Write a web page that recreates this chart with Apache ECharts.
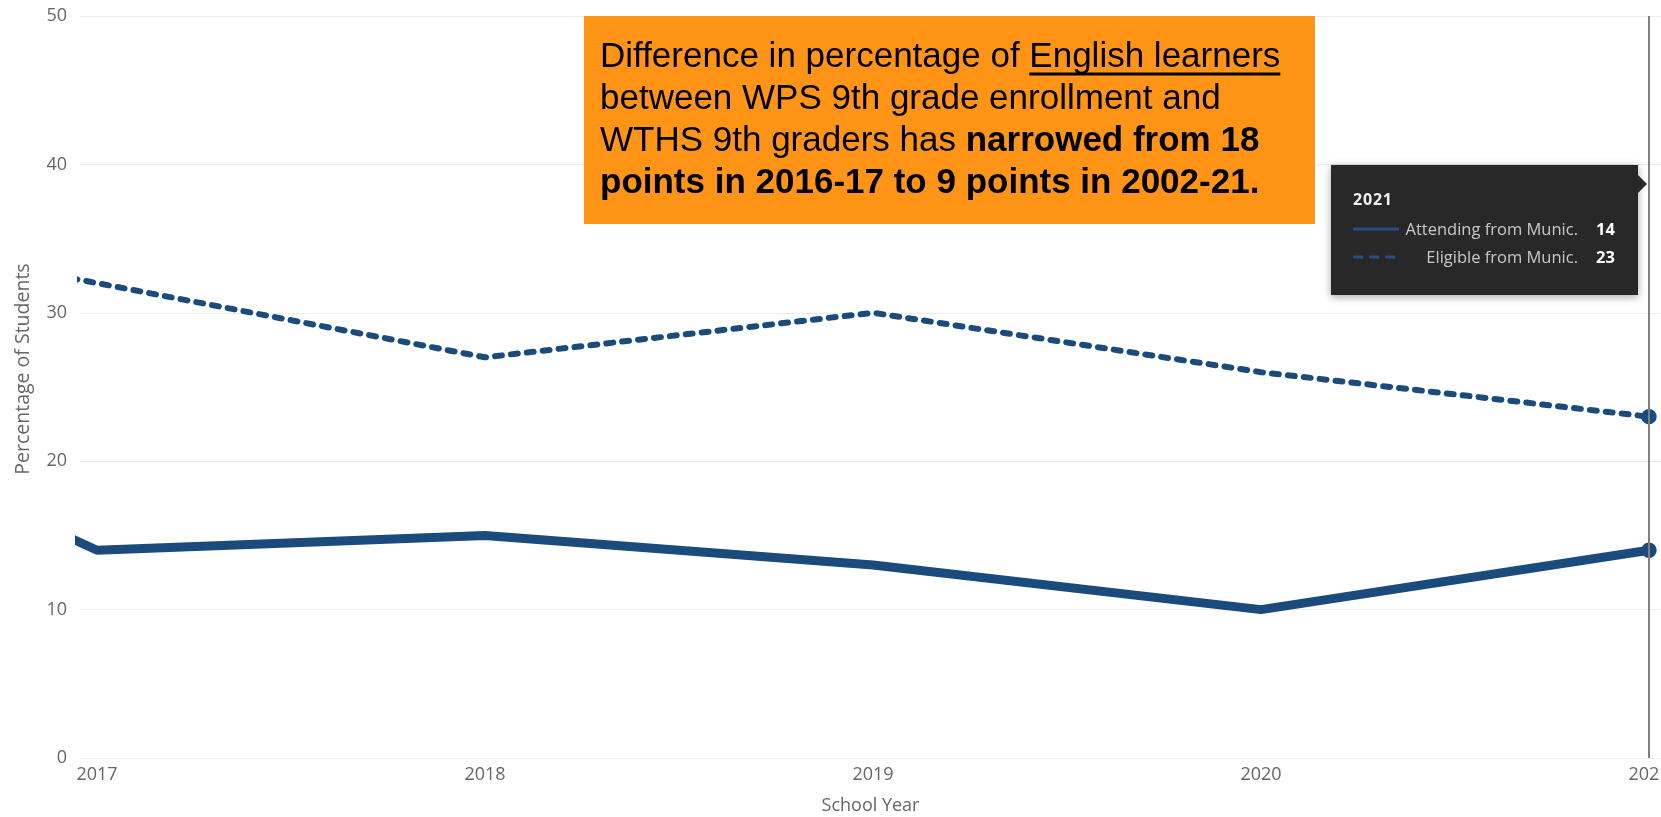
<!DOCTYPE html>
<html>
<head>
<meta charset="utf-8">
<script src="https://cdn.jsdelivr.net/npm/echarts@6/dist/echarts.min.js"></script>
<style>
  html, body { margin: 0; padding: 0; background: #ffffff; overflow: hidden; width: 100%; height: 100%; }
  #chart { width: 100vw; height: 100vh; }
</style>
</head>
<body>
<div id="chart"></div>
<script>
// ---- data ----
const years = [2016, 2017, 2018, 2019, 2020, 2021];
const attending = [26, 14, 15, 13, 10, 14];
const eligible = [37, 32, 27, 30, 26, 23];
const xTickLabels = [2017, 2018, 2019, 2020, 2021];
const yTicks = [0, 10, 20, 30, 40, 50];
const seriesNames = ['Attending from Munic.', 'Eligible from Munic.'];
const axisNames = { x: 'School Year', y: 'Percentage of Students' };
const noteLines = [
  ['Difference in percentage of ', 'English learners'],
  ['between WPS 9th grade enrollment and'],
  ['WTHS 9th graders has ', 'narrowed from 18'],
  ['points in 2016-17 to 9 points in 2002-21.']
];

// ---- chart ----
const NAVY = '#1b4a7c';
const chart = echarts.init(document.getElementById('chart'), null, { renderer: 'canvas' });
const W = chart.getWidth(), H = chart.getHeight();
const sx = W / 1661, sy = H / 817;
const last = years.length - 1;

function toData(vals) {
  return years.map((y, i) => ({
    value: [y, vals[i]],
    symbol: i === last ? 'circle' : 'none'
  }));
}

const noteFont = '"Liberation Sans", Arial, sans-serif';
const noteSize = 35;
const noteLH = 42;
const boxX = 584 * sx, boxY = 16 * sy, boxW = 731 * sx, boxH = 208 * sy;
const textX = 600 * sx, textY = 36 * sy;

// measure underline position
const cv = document.createElement('canvas').getContext('2d');
cv.font = noteSize + 'px ' + noteFont;
const w0 = cv.measureText(noteLines[0][0]).width;
const w1 = cv.measureText(noteLines[0][1]).width;

const noteText =
  '{n|' + noteLines[0][0] + '}{n|' + noteLines[0][1] + '}\n' +
  '{n|' + noteLines[1][0] + '}\n' +
  '{n|' + noteLines[2][0] + '}{b|' + noteLines[2][1] + '}\n' +
  '{b|' + noteLines[3][0] + '}';

const swatch = dash =>
  '<svg width="46" height="6" style="display:block"><line x1="0" y1="3" x2="46" y2="3" stroke="#234f86" stroke-width="3"' +
  (dash ? ' stroke-dasharray="10,6"' : '') + '/></svg>';

const tipRow = (dash, name, val) =>
  '<tr style="height:28px">' +
  '<td style="padding:0;vertical-align:middle;width:46px">' + swatch(dash) + '</td>' +
  '<td style="text-align:right;color:#c8c8c8;padding:0 18px 0 0;white-space:nowrap;width:179px">' + name + '</td>' +
  '<td style="color:#ffffff;font-weight:700;text-align:left;padding:0">' + val + '</td></tr>';

const option = {
  backgroundColor: '#ffffff',
  animation: false,
  grid: {
    left: 80 * sx, right: 0, top: 16 * sy, bottom: 59 * sy,
    containLabel: false,
    outerBoundsMode: 'none'
  },
  xAxis: {
    type: 'value',
    min: 2016.956,
    max: 2021.031,
    name: axisNames.x,
    nameLocation: 'middle',
    nameGap: 39,
    nameTextStyle: { color: '#666666', fontSize: 18, fontFamily: 'Open Sans' },
    axisLine: { show: false },
    axisTick: { show: false },
    splitLine: { show: false },
    axisLabel: {
      customValues: xTickLabels,
      formatter: v => String(v),
      color: '#666666',
      fontSize: 18,
      fontFamily: 'Open Sans',
      margin: 8,
      hideOverlap: false
    }
  },
  yAxis: {
    type: 'value',
    min: yTicks[0],
    max: yTicks[yTicks.length - 1],
    interval: 10,
    name: axisNames.y,
    nameLocation: 'middle',
    nameGap: 47,
    nameTextStyle: { color: '#666666', fontSize: 19.5, fontFamily: 'Open Sans', padding: [0, 0, 0, 36] },
    axisLine: { show: false },
    axisTick: { show: false },
    splitLine: { lineStyle: { color: '#ebebeb', width: 1 } },
    axisLabel: { color: '#666666', fontSize: 18, fontFamily: 'Open Sans', margin: 13 }
  },
  tooltip: {
    trigger: 'axis',
    triggerOn: 'none',
    alwaysShowContent: true,
    transitionDuration: 0,
    backgroundColor: '#282828',
    borderWidth: 0,
    padding: [24, 22, 10, 22],
    extraCssText: 'border-radius:0;box-shadow:0 2px 8px rgba(0,0,0,0.35);width:307px;height:130px;box-sizing:border-box;overflow:visible;',
    textStyle: { fontFamily: 'Open Sans', fontSize: 16, color: '#ffffff' },
    axisPointer: { type: 'line', lineStyle: { color: '#7f7f7f', width: 2, type: 'solid' } },
    position: function (point, params, dom, rect, size) {
      return [point[0] - size.contentSize[0] - 11, 165 * sy];
    },
    formatter: function (params) {
      const yr = params[0].value[0];
      const a = params.find(p => p.seriesIndex === 0).value[1];
      const e = params.find(p => p.seriesIndex === 1).value[1];
      return '<div style="position:absolute;right:-9px;top:10px;width:0;height:0;border-left:9px solid #282828;border-top:9px solid transparent;border-bottom:9px solid transparent"></div>' +
        '<div style="font-weight:700;color:#f0f0f0;font-size:16px;line-height:20px;margin-bottom:6px;letter-spacing:0.8px">' + yr + '</div>' +
        '<table style="border-collapse:collapse;font-size:16.5px;line-height:28px">' +
        tipRow(false, seriesNames[0], a) +
        tipRow(true, seriesNames[1], e) +
        '</table>';
    }
  },
  series: [
    {
      name: seriesNames[0],
      type: 'line',
      data: toData(attending),
      showSymbol: true,
      symbolSize: 14,
      clip: true,
      lineStyle: { color: NAVY, width: 9, join: 'round' },
      itemStyle: { color: NAVY },
      emphasis: { disabled: true },
      z: 3
    },
    {
      name: seriesNames[1],
      type: 'line',
      data: toData(eligible),
      showSymbol: true,
      symbolSize: 14,
      clip: true,
      lineStyle: { color: NAVY, width: 6, type: [7, 9], cap: 'round', join: 'round' },
      itemStyle: { color: NAVY },
      emphasis: { disabled: true },
      z: 3
    }
  ],
  graphic: [
    {
      type: 'rect',
      shape: { x: boxX, y: boxY, width: boxW, height: boxH },
      style: { fill: '#ff9416' },
      z: 100
    },
    {
      type: 'text',
      x: textX,
      y: textY,
      z: 101,
      style: {
        text: noteText,
        fill: '#000000',
        font: noteSize + 'px ' + noteFont,
        rich: {
          n: { fontFamily: noteFont, fontSize: noteSize, lineHeight: noteLH, fill: '#000' },
          b: { fontFamily: noteFont, fontSize: noteSize, lineHeight: noteLH, fontWeight: 'bold', fill: '#000' }
        }
      }
    },
    {
      type: 'line',
      z: 102,
      shape: { x1: textX + w0, y1: textY + noteLH / 2 + 17, x2: textX + w0 + w1, y2: textY + noteLH / 2 + 17 },
      style: { stroke: '#000000', lineWidth: 3 }
    }
  ]
};

chart.setOption(option);
chart.dispatchAction({ type: 'showTip', seriesIndex: 0, dataIndex: last });
</script>
</body>
</html>
